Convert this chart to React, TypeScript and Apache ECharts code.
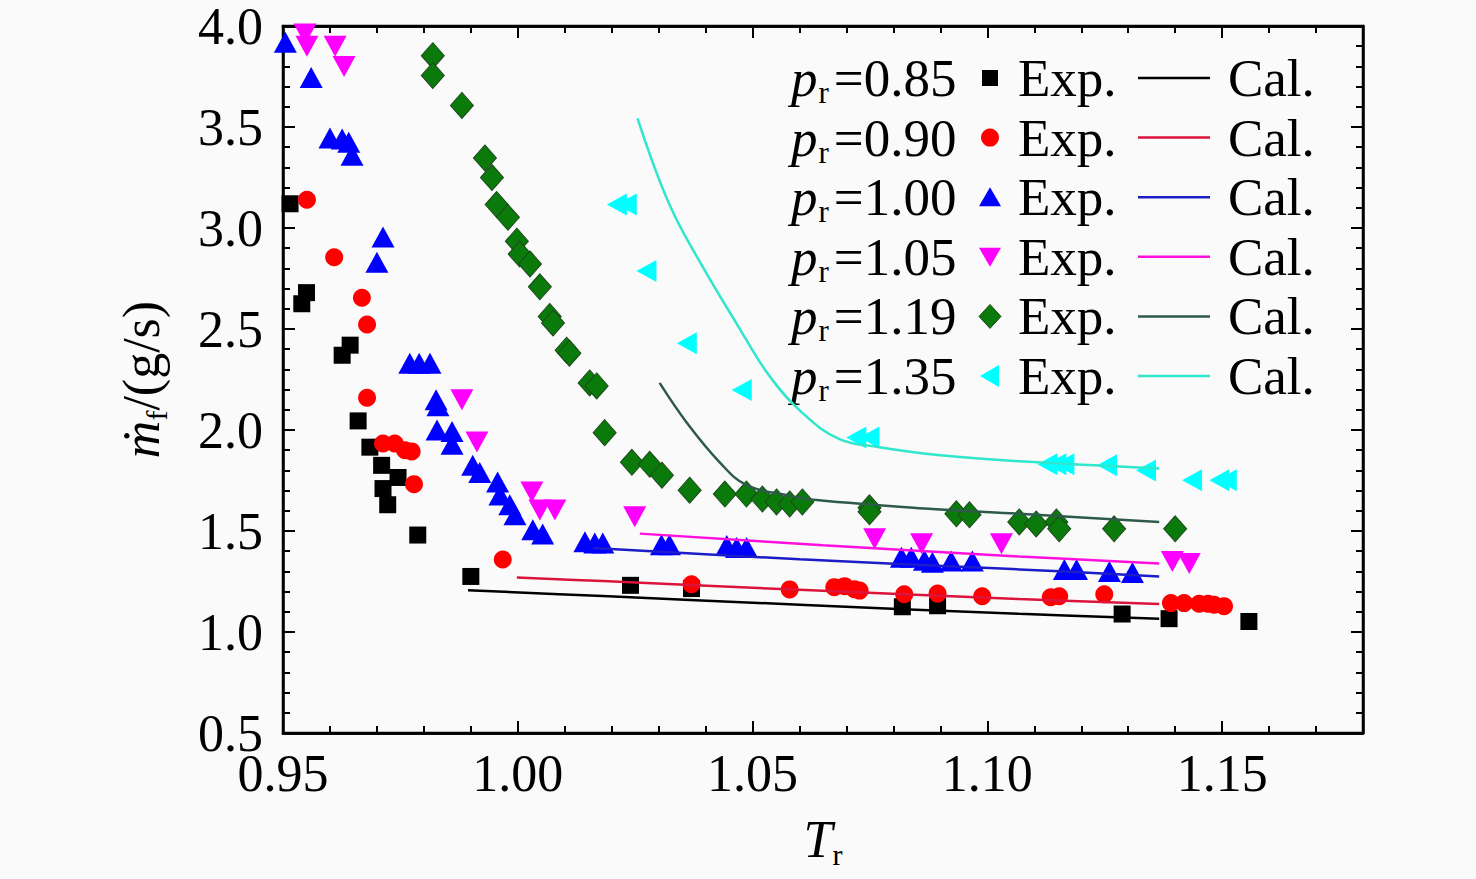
import { useEffect, useRef } from "react";
import * as echarts from "echarts";

// p_r values and legend order
const pressures = ["0.85", "0.90", "1.00", "1.05", "1.19", "1.35"];

// experimental points [T_r, mass flow g/s]
const exp085 = [
  [0.9515, 3.12], [0.954, 2.625], [0.955, 2.68], [0.9626, 2.37], [0.9643, 2.42],
  [0.966, 2.045], [0.9685, 1.915], [0.971, 1.825], [0.9713, 1.71], [0.9723, 1.63],
  [0.9745, 1.765], [0.9787, 1.48], [0.99, 1.275], [1.024, 1.231], [1.037, 1.215],
  [1.0819, 1.125], [1.0894, 1.13], [1.1287, 1.089], [1.1387, 1.066], [1.1557, 1.052],
];
const exp090 = [
  [0.9551, 3.14], [0.9609, 2.855], [0.9668, 2.655], [0.9679, 2.522], [0.9679, 2.16],
  [0.9713, 1.933], [0.9738, 1.933], [0.976, 1.9], [0.9774, 1.894], [0.9779, 1.732],
  [0.9968, 1.359], [1.037, 1.236], [1.0579, 1.211], [1.0674, 1.222], [1.0696, 1.227],
  [1.0717, 1.212], [1.0728, 1.205], [1.0823, 1.187], [1.0894, 1.19], [1.0989, 1.177],
  [1.1135, 1.172], [1.1153, 1.177], [1.1249, 1.187], [1.1391, 1.143], [1.1419, 1.143],
  [1.1451, 1.14], [1.147, 1.14], [1.1483, 1.135], [1.1504, 1.128],
];
const exp100 = [
  [0.9505, 3.92], [0.956, 3.745], [0.96, 3.445], [0.9626, 3.44], [0.964, 3.425],
  [0.9647, 3.36], [0.97, 2.83], [0.9713, 2.955], [0.977, 2.33], [0.979, 2.33],
  [0.9813, 2.33], [0.9826, 2.15], [0.983, 2.12], [0.9828, 2.0], [0.986, 1.993],
  [0.986, 1.93], [0.9904, 1.825], [0.9919, 1.79], [0.9957, 1.742], [0.9962, 1.678],
  [0.9983, 1.63], [0.9994, 1.58], [1.0032, 1.506], [1.0053, 1.485], [1.0143, 1.447],
  [1.0164, 1.44], [1.0181, 1.44], [1.0306, 1.432], [1.0323, 1.432], [1.0445, 1.428],
  [1.0466, 1.418], [1.0487, 1.418], [1.0817, 1.37], [1.0838, 1.37], [1.0866, 1.355],
  [1.0883, 1.345], [1.0923, 1.352], [1.0968, 1.352], [1.1164, 1.31], [1.119, 1.31],
  [1.126, 1.3], [1.1309, 1.295],
];
const exp105 = [
  [0.9547, 3.96], [0.9551, 3.9], [0.9611, 3.9], [0.963, 3.8], [0.9881, 2.15],
  [0.9913, 1.94], [1.003, 1.693], [1.0047, 1.604], [1.0079, 1.604], [1.0249, 1.57],
  [1.076, 1.462], [1.086, 1.437], [1.103, 1.437], [1.1394, 1.349], [1.143, 1.339],
];
const exp119 = [
  [0.9819, 3.853], [0.9819, 3.755], [0.9881, 3.607], [0.993, 3.347], [0.9945, 3.25],
  [0.9955, 3.116], [0.9979, 3.053], [0.9998, 2.935], [1.0004, 2.871], [1.0026, 2.822],
  [1.0047, 2.709], [1.0068, 2.562], [1.0075, 2.53], [1.0104, 2.395], [1.011, 2.38],
  [1.0153, 2.233], [1.0168, 2.218], [1.0185, 1.987], [1.0243, 1.84], [1.0281, 1.83],
  [1.0307, 1.776], [1.0366, 1.702], [1.0441, 1.683], [1.0487, 1.683], [1.0521, 1.658],
  [1.0551, 1.644], [1.0579, 1.634], [1.0606, 1.644], [1.0749, 1.615], [1.0749, 1.595],
  [1.0934, 1.585], [1.0962, 1.58], [1.1068, 1.545], [1.1104, 1.535], [1.1147, 1.545],
  [1.1153, 1.511], [1.127, 1.511], [1.14, 1.511],
];
const exp135 = [
  [1.0211, 3.116], [1.0232, 3.116], [1.0274, 2.787], [1.036, 2.429], [1.0477, 2.198],
  [1.0721, 1.963], [1.0749, 1.963], [1.1128, 1.83], [1.1147, 1.83], [1.1164, 1.83],
  [1.1255, 1.825], [1.1338, 1.8], [1.1436, 1.751], [1.1494, 1.751], [1.151, 1.751],
];

// calculated curves
const cal085 = [[0.9894, 1.207], [1.0181, 1.178], [1.06, 1.135], [1.1068, 1.09], [1.1366, 1.066]];
const cal090 = [[0.9998, 1.27], [1.0181, 1.252], [1.06, 1.209], [1.1068, 1.163], [1.1366, 1.138]];
const cal100 = [[1.016, 1.416], [1.06, 1.36], [1.1068, 1.31], [1.1366, 1.275]];
const cal105 = [[1.026, 1.487], [1.065, 1.43], [1.1068, 1.374], [1.1366, 1.339]];
const cal119 = [
  [1.0302, 2.233], [1.036, 2.036], [1.043, 1.84], [1.0487, 1.727], [1.0572, 1.678],
  [1.0636, 1.653], [1.0883, 1.609], [1.1068, 1.585], [1.1366, 1.545],
];
const cal135 = [
  [1.0255, 3.543], [1.0323, 3.116], [1.0394, 2.807], [1.0466, 2.527], [1.0536, 2.267],
  [1.0606, 2.085], [1.0685, 1.955], [1.077, 1.915], [1.09, 1.875], [1.1068, 1.845],
  [1.1366, 1.81],
];

const expData = [exp085, exp090, exp100, exp105, exp119, exp135];
const calData = [cal085, cal090, cal100, cal105, cal119, cal135];

const expColors = ["#000000", "#ff0000", "#0000ff", "#ff00ff", "#0a7a0a", "#00ffff"];
const calColors = ["#000000", "#dc143c", "#1c1cc8", "#ff10e0", "#2e5a4c", "#30e6cc"];
const symbols = ["rect", "circle", "triangle", "triangle", "diamond", "triangle"];
const symbolRotations = [0, 0, 0, 180, 0, 90];
const symbolSizes: any[] = [17, 18, [23, 21], [23, 21], [23, 26], [22, 20]];

const FONT = "'Liberation Serif', 'Times New Roman', serif";

function legendMarker(i: number, cx: number, cy: number) {
  const fill = expColors[i];
  if (i === 0) return { type: "rect", shape: { x: cx - 8, y: cy - 8, width: 16, height: 16 }, style: { fill } };
  if (i === 1) return { type: "circle", shape: { cx, cy, r: 9 }, style: { fill } };
  if (i === 2)
    return { type: "polygon", shape: { points: [[cx, cy - 10], [cx + 11, cy + 9], [cx - 11, cy + 9]] }, style: { fill } };
  if (i === 3)
    return { type: "polygon", shape: { points: [[cx - 11, cy - 9], [cx + 11, cy - 9], [cx, cy + 10]] }, style: { fill } };
  if (i === 4)
    return {
      type: "polygon",
      shape: { points: [[cx, cy - 12], [cx + 11, cy], [cx, cy + 12], [cx - 11, cy]] },
      style: { fill, stroke: "#1d4a1d", lineWidth: 1 },
    };
  return { type: "polygon", shape: { points: [[cx - 10, cy], [cx + 9, cy - 11], [cx + 9, cy + 11]] }, style: { fill } };
}

export default function App() {
  const ref = useRef<HTMLDivElement | null>(null);

  useEffect(() => {
    if (!ref.current) return;
    const chart = echarts.init(ref.current, null, { renderer: "svg" });

    const rowY = (i: number) => 78 + i * 59.6;
    const graphics: any[] = [];
    pressures.forEach((p, i) => {
      const y = rowY(i);
      graphics.push({
        type: "text",
        x: 791,
        y,
        style: {
          text: `{p|p}{s|r}{n|=${p}}`,
          verticalAlign: "middle",
          rich: {
            p: { fontFamily: FONT, fontStyle: "italic", fontSize: 53, lineHeight: 60, fill: "#000" },
            s: {
              fontFamily: FONT,
              fontSize: 31,
              lineHeight: 30,
              verticalAlign: "bottom",
              padding: [0, 5, 0, 1],
              fill: "#000",
            },
            n: { fontFamily: FONT, fontSize: 53, lineHeight: 60, fill: "#000" },
          },
        },
      });
      graphics.push(legendMarker(i, 990, y));
      graphics.push({
        type: "text",
        x: 1018,
        y,
        style: { text: "Exp.", fontFamily: FONT, fontSize: 53, fill: "#000", verticalAlign: "middle" },
      });
      graphics.push({
        type: "line",
        shape: { x1: 1138, y1: y, x2: 1210, y2: y },
        style: { stroke: calColors[i], lineWidth: 2.5 },
      });
      graphics.push({
        type: "text",
        x: 1228,
        y,
        style: { text: "Cal.", fontFamily: FONT, fontSize: 53, fill: "#000", verticalAlign: "middle" },
      });
    });

    const axisLine = { show: true, lineStyle: { color: "#000", width: 2.5 } };
    const majorX = (position: string, labels: boolean) => ({
      type: "value",
      position,
      min: 0.95,
      max: 1.18,
      interval: 0.05,
      axisLine,
      axisTick: { show: true, inside: true, length: 12, lineStyle: { color: "#000", width: 2 } },
      axisLabel: {
        show: labels,
        showMaxLabel: false,
        margin: 22,
        lineHeight: 36,
        fontFamily: FONT,
        fontSize: 52,
        color: "#000",
        formatter: (v: number) => v.toFixed(2),
      },
      splitLine: { show: false },
    });
    const minorX = (position: string) => ({
      type: "value",
      position,
      min: 0.95,
      max: 1.18,
      interval: 0.01,
      axisLine,
      axisTick: { show: true, inside: true, length: 7, lineStyle: { color: "#000", width: 2 } },
      axisLabel: { show: false },
      splitLine: { show: false },
    });
    const yAx = (position: string, labels: boolean) => ({
      type: "value",
      position,
      min: 0.5,
      max: 4.0,
      interval: 0.5,
      axisLine,
      axisTick: { show: true, inside: true, length: 12, lineStyle: { color: "#000", width: 2 } },
      minorTick: { show: true, splitNumber: 5, length: 7, lineStyle: { color: "#000", width: 2 } },
      axisLabel: {
        show: labels,
        margin: 20,
        lineHeight: 30,
        fontFamily: FONT,
        fontSize: 52,
        color: "#000",
        formatter: (v: number) => v.toFixed(1),
      },
      splitLine: { show: false },
    });

    const xMain: any = majorX("bottom", true);
    xMain.name = "{t|T}{r|r}";
    xMain.nameLocation = "middle";
    xMain.nameGap = 76;
    xMain.nameTextStyle = {
      rich: {
        t: { fontFamily: FONT, fontStyle: "italic", fontSize: 52, lineHeight: 60, color: "#000" },
        r: { fontFamily: FONT, fontSize: 30, lineHeight: 30, verticalAlign: "bottom", color: "#000" },
      },
    };

    const yMain: any = yAx("left", true);
    yMain.name = "{m|ṁ}{f|f}{u|/(g/s)}";
    yMain.nameLocation = "middle";
    yMain.nameRotate = 90;
    yMain.nameGap = 112;
    yMain.nameTextStyle = {
      rich: {
        m: { fontFamily: FONT, fontStyle: "italic", fontSize: 52, lineHeight: 60, color: "#000" },
        f: { fontFamily: FONT, fontSize: 30, lineHeight: 30, verticalAlign: "bottom", color: "#000" },
        u: { fontFamily: FONT, fontSize: 52, lineHeight: 60, color: "#000" },
      },
    };

    const series: any[] = [];
    expData.forEach((d, i) => {
      series.push({
        type: "scatter",
        name: `p${pressures[i]} Exp.`,
        data: d,
        symbol: symbols[i],
        symbolSize: symbolSizes[i],
        symbolRotate: symbolRotations[i],
        itemStyle:
          i === 4
            ? { color: expColors[i], borderColor: "#1d4a1d", borderWidth: 1, opacity: 1 }
            : { color: expColors[i], opacity: 1 },
        xAxisIndex: 0,
        yAxisIndex: 0,
        z: 2,
      });
    });
    calData.forEach((d, i) => {
      series.push({
        type: "line",
        name: `p${pressures[i]} Cal.`,
        data: d,
        showSymbol: false,
        symbol: "none",
        smooth: 0.4,
        lineStyle: { color: calColors[i], width: 2.5 },
        xAxisIndex: 0,
        yAxisIndex: 0,
        z: 3,
      });
    });

    chart.setOption({
      animation: false,
      backgroundColor: "#fafafa",
      grid: {
        left: 283,
        right: 113,
        top: 20,
        bottom: 146,
        show: true,
        borderColor: "#000",
        borderWidth: 2.5,
        backgroundColor: "transparent",
      },
      xAxis: [xMain, majorX("top", false), minorX("bottom"), minorX("top")],
      yAxis: [yMain, yAx("right", false)],
      series,
      graphic: graphics,
    });

    const onResize = () => chart.resize();
    window.addEventListener("resize", onResize);
    return () => {
      window.removeEventListener("resize", onResize);
      chart.dispose();
    };
  }, []);

  return (
    <div
      ref={ref}
      style={{ position: "fixed", left: 0, top: 0, width: "100vw", height: "100vh" }}
    />
  );
}
